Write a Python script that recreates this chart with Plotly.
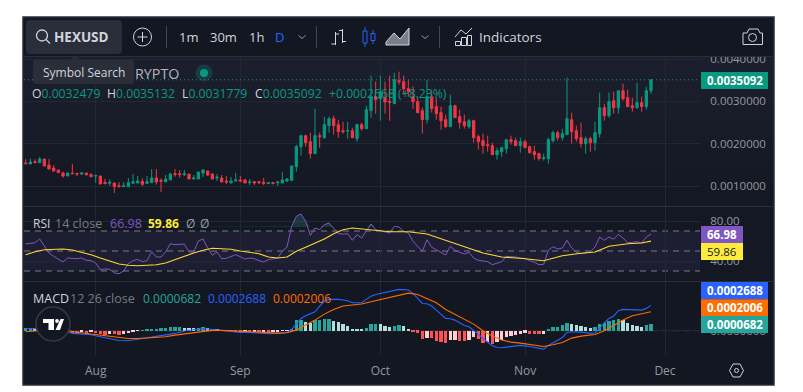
import pandas as pd
import plotly.graph_objects as go

# ---------- data (price values in units of 1e-4) ----------
start_date = "2023-07-17"
opens = [15.43,15.19,15.75,15.51,16.37,14.96,14.25,13.78,13.07,12.36,13.07,12.99,12.83,13.07,12.68,12.36,12.36,10.87,10.63,10.71,
 10.08,9.84,9.84,10.63,10.71,11.10,10.63,10.79,11.89,11.34,11.02,11.42,12.91,12.91,12.68,12.83,11.65,11.65,13.07,13.54,
 12.83,11.89,11.89,11.18,10.71,11.18,11.42,11.42,10.79,11.02,11.02,10.87,10.55,10.79,10.79,10.71,11.18,11.34,14.57,19.29,
 21.89,20.47,17.64,21.89,21.42,24.25,25.90,24.49,23.07,22.99,23.07,21.18,24.49,23.54,27.79,31.10,30.62,30.86,29.99,29.44,
 34.87,34.64,32.99,31.10,29.92,27.79,25.67,31.10,28.74,27.32,25.67,24.01,28.97,26.37,25.19,24.01,25.43,21.65,20.71,19.76,
 19.53,17.40,18.11,18.82,20.94,20.71,19.53,20.47,19.29,18.11,17.64,16.46,16.46,20.71,22.60,21.42,22.12,25.67,23.07,21.42,
 20.00,21.18,20.24,22.36,28.50,26.61,30.15,28.50,32.51,30.86,28.97,28.50,29.68,28.74,32.479]
highs = [16.30,16.53,16.30,16.85,16.37,16.37,14.96,13.78,13.38,13.07,15.19,13.07,13.31,13.07,13.07,12.68,12.36,11.65,11.57,10.79,
 10.94,10.94,11.89,12.83,12.36,11.81,12.36,14.01,14.01,11.81,12.60,13.15,14.01,13.78,13.78,12.83,12.60,13.31,14.01,13.54,
 13.07,12.83,12.60,12.36,12.12,13.07,12.36,11.65,11.65,11.18,11.18,11.89,10.94,10.94,11.18,13.31,11.89,14.88,19.76,22.12,
 22.12,22.60,28.26,22.60,26.37,26.37,26.61,25.67,25.19,25.19,23.78,24.72,24.96,28.97,36.05,34.64,36.05,34.64,36.05,36.76,
 37.00,36.05,35.11,33.54,31.10,28.50,35.11,32.75,30.86,28.74,26.85,31.57,29.21,28.03,26.85,25.90,25.67,22.12,22.36,21.89,
 20.24,19.06,19.29,20.94,21.89,21.42,21.42,20.94,19.53,19.53,17.88,17.64,21.42,23.07,23.07,23.54,35.58,27.32,24.25,24.96,
 21.65,21.65,25.19,32.04,29.44,32.04,32.28,32.51,34.17,32.75,30.86,34.40,31.10,33.46,35.132]
lows = [15.27,15.19,15.43,15.51,14.72,14.01,13.54,13.15,11.97,12.36,12.83,12.36,12.60,12.44,12.20,10.79,10.47,10.39,10.00,8.35,
 9.84,9.84,9.84,10.63,10.71,10.00,10.47,10.79,10.31,8.58,10.87,11.42,12.20,11.97,12.36,11.65,11.65,11.65,12.12,12.36,
 11.65,11.18,10.94,10.47,10.71,11.18,10.94,10.71,10.24,10.24,10.47,10.24,10.47,10.47,10.00,10.71,10.94,11.18,13.39,17.17,
 19.29,16.46,17.64,19.06,21.18,22.60,22.12,21.42,22.36,21.18,21.42,20.47,23.07,23.54,26.14,27.08,25.43,27.08,25.43,29.44,
 33.93,31.57,31.10,28.26,27.32,22.36,24.72,27.32,25.67,23.31,23.78,24.01,26.14,23.54,23.54,23.54,20.24,18.58,17.64,18.11,
 17.40,16.22,16.93,17.64,19.76,19.53,17.88,19.06,17.64,16.22,15.99,15.99,15.28,20.24,20.71,20.71,22.12,20.00,20.47,19.06,
 17.64,18.11,18.35,21.42,25.43,26.14,27.08,27.08,30.15,28.74,27.55,28.26,27.55,28.03,31.779]
closes = [15.27,15.67,15.51,16.37,14.72,14.01,13.54,13.15,12.36,13.07,12.91,12.83,13.07,12.68,12.20,12.44,10.47,10.55,10.87,9.84,
 9.84,10.08,10.79,11.02,11.18,10.39,11.02,11.89,10.94,11.10,11.65,12.83,12.68,12.68,12.91,11.65,11.89,13.31,13.78,12.60,
 11.65,12.12,10.94,10.94,11.18,11.42,11.18,10.71,10.94,10.71,10.79,10.63,10.79,10.55,10.94,11.42,11.65,14.72,19.29,21.89,
 20.24,17.64,21.89,21.65,24.49,25.90,24.25,22.83,22.83,23.07,21.42,24.49,23.54,28.03,31.10,30.39,32.28,29.84,29.76,35.11,
 34.64,32.99,32.28,29.92,27.32,25.67,31.10,28.26,27.08,25.43,24.01,28.97,26.14,24.96,24.25,25.43,21.42,20.47,19.53,19.53,
 17.40,18.35,19.06,20.94,20.47,19.53,20.47,19.06,17.88,17.40,16.46,16.69,20.94,22.60,21.42,22.36,25.90,22.83,21.18,20.00,
 21.18,20.24,22.60,28.50,26.61,29.92,28.50,32.51,30.62,28.74,28.50,29.68,28.74,32.51,35.092]

rsi = [57.0,57.7,58.3,62.0,54.7,48.0,44.7,42.0,39.0,43.0,42.3,42.3,43.0,40.7,40.3,38.0,31.3,32.0,31.7,28.0,27.3,30.0,37.3,40.3,41.7,39.3,40.3,49.3,44.0,44.0,
 49.0,57.3,56.3,56.3,57.0,49.0,49.0,60.0,62.0,53.0,45.7,49.0,42.3,42.7,44.7,46.3,44.3,42.0,43.0,42.3,40.3,39.0,41.3,42.3,43.0,49.7,54.0,74.7,84.7,87.0,
 79.7,65.7,73.0,71.3,76.3,78.0,73.0,67.3,67.0,67.3,60.7,66.3,63.0,70.7,77.0,71.3,70.3,69.0,68.0,74.7,74.0,
 69.7,68.0,59.7,54.7,49.7,61.3,53.7,51.3,48.7,46.0,54.7,50.7,48.7,47.0,48.7,43.0,40.7,40.0,39.3,36.3,38.0,39.3,44.7,44.7,44.0,42.7,42.7,40.3,38.7,36.3,36.7,
 50.7,54.3,52.0,53.0,60.7,53.0,48.7,47.3,48.0,49.0,54.0,64.0,60.7,64.0,61.7,66.7,63.0,58.3,58.7,59.3,58.0,64.0,66.98]
rsi_ma_bars = list(range(0, 81, 2)) + [82,86,90,94,98,102,106,111,115,119,122,125,129,132,134]
rsi_ma = [46.3,49.3,51.3,52.0,52.0,51.0,49.0,46.3,43.0,39.7,37.0,35.7,35.3,35.7,36.3,38.0,41.3,45.3,48.0,50.7,52.7,52.3,51.7,50.0,48.7,47.3,44.0,43.0,44.0,49.7,53.7,57.7,62.0,67.3,71.3,73.0,72.0,70.7,70.3,69.3,69.3,
 69.3,67.0,60.7,53.7,48.0,44.0,42.7,40.3,45.3,47.7,49.0,54.7,57.3,58.0,59.86]

macd_bars = list(range(0, 57, 2)) + list(range(57, 81)) + list(range(82, 105)) + [106,108,110,111,112,113,114,115,116,117,119,121,122,123,124,125,126,127,128,130,132,133,134]
macd = [0.20,0.23,0.23,0.16,-0.02,-0.30,-0.37,-0.45,-0.66,-0.87,-1.05,-1.09,-0.94,-0.80,-0.66,-0.52,-0.30,-0.05,0.05,0.23,0.12,0.02,-0.09,-0.20,-0.20,-0.27,-0.34,-0.30,-0.20,
 0.12,0.77,1.30,1.58,1.76,2.01,2.62,3.15,3.33,3.36,3.33,3.26,3.19,2.97,2.94,2.97,3.33,3.68,3.86,3.97,4.04,4.18,4.33,4.40,
 4.33,3.97,3.44,2.90,2.87,2.62,2.19,1.76,1.30,1.26,1.12,0.84,0.55,0.41,-0.05,-0.41,-0.84,-1.19,-1.62,-1.80,-1.83,-1.76,-1.69,
 -1.58,-1.69,-1.90,-1.98,-1.58,-1.30,-1.09,-0.73,-0.20,-0.12,-0.16,-0.30,-0.23,0.23,0.84,1.30,1.55,2.12,2.26,2.26,2.19,2.37,2.688]
signal_bars = list(range(0, 81, 2)) + [82,84,86,88,90,92,94,96,98,100,102,104,106,108,111,113,115,117,119,122,124,126,128,130,132,134]
signal = [-0.12,-0.02,0.09,0.12,0.05,-0.12,-0.23,-0.37,-0.48,-0.66,-0.77,-0.84,-0.84,-0.80,-0.73,-0.66,-0.48,-0.34,-0.23,-0.09,0.02,0.02,-0.05,-0.09,-0.12,-0.16,-0.23,-0.27,-0.23,0.05,0.59,1.12,1.76,2.26,2.62,2.76,2.83,3.08,3.33,3.54,3.79,
 4.00,3.86,3.44,2.97,2.26,1.73,1.19,0.69,-0.02,-0.59,-1.01,-1.23,-1.34,-1.48,-1.69,-1.51,-1.26,-0.80,-0.59,-0.41,-0.02,0.55,1.12,1.58,1.76,2.006]
hist = [0.28,0.28,0.25,0.20,0.12,0.06,0.02,0.0,-0.05,-0.10,-0.28,-0.32,-0.18,-0.25,-0.18,-0.25,-0.36,-0.43,-0.36,-0.39,-0.43,-0.32,-0.25,-0.14,-0.03,0.03,0.07,0.14,0.18,0.25,
 0.28,0.36,0.365,0.39,0.32,0.28,0.25,0.28,0.36,0.25,0.14,0.07,0.03,0.0,-0.03,-0.05,-0.07,-0.05,-0.07,-0.05,-0.10,-0.05,-0.14,-0.07,-0.05,-0.03,-0.02,0.07,1.10,1.17,
 0.93,0.85,1.10,1.17,1.21,1.25,1.03,0.89,0.68,0.46,0.21,0.14,0.11,0.28,0.68,0.71,0.68,0.53,0.36,0.53,0.57,
 0.46,0.21,-0.14,-0.21,-0.89,-0.78,-0.80,-1.14,-1.18,-1.35,-1.0,-0.98,-1.07,-1.14,-1.0,-0.64,-0.93,-1.28,-1.25,-1.42,-1.18,-0.96,-0.71,-0.53,-0.43,-0.36,-0.21,-0.32,-0.34,-0.36,-0.32,
 0.07,0.36,0.43,0.57,0.78,0.71,0.57,0.46,0.36,0.28,0.36,0.71,0.85,1.07,1.14,1.21,1.14,0.85,0.64,0.50,0.43,0.57,0.682]

assert len(opens)==len(highs)==len(lows)==len(closes)==len(rsi)==len(hist)==135, (len(opens),len(highs),len(lows),len(closes),len(rsi),len(hist))
assert len(rsi_ma_bars)==len(rsi_ma), (len(rsi_ma_bars),len(rsi_ma))
assert len(macd_bars)==len(macd), (len(macd_bars),len(macd))
assert len(signal_bars)==len(signal), (len(signal_bars),len(signal))

last_close_label = "0.0035092"
month_ticks = ["2023-08-01","2023-09-01","2023-10-01","2023-11-01","2023-12-01"]

# ---------- layout helpers ----------
W, H = 803, 392
def px(x): return x / W
def py(y): return 1 - y / H

BG = "#131722"; GRID = "#232733"; SEP = "#2a2e39"; TXT = "#d1d4dc"; MUTED = "#9598a1"
GREEN = "#089981"; RED = "#f23645"; FONT = "Open Sans"

dates = pd.date_range(start_date, periods=len(opens))
E4 = 1e-4
o = [v*E4 for v in opens]; h_ = [v*E4 for v in highs]; l_ = [v*E4 for v in lows]; c = [v*E4 for v in closes]

hist_colors = []
for i, v in enumerate(hist):
    prev = hist[i-1] if i else 0
    if v >= 0:
        hist_colors.append("#26a69a" if v >= prev else "#b2dfdb")
    else:
        hist_colors.append("#ffcdd2" if v >= prev else "#ff5252")

fig = go.Figure()
fig.add_trace(go.Candlestick(x=dates, open=o, high=h_, low=l_, close=c, xaxis="x", yaxis="y",
    increasing=dict(line=dict(color=GREEN, width=1), fillcolor=GREEN),
    decreasing=dict(line=dict(color=RED, width=1), fillcolor=RED),
    whiskerwidth=0, hoverinfo="skip", showlegend=False))

rsi_above = [max(v, 74) for v in rsi]
fig.add_trace(go.Scatter(x=dates, y=[74]*len(rsi), xaxis="x2", yaxis="y2", mode="lines", line=dict(width=0), showlegend=False, hoverinfo="skip"))
fig.add_trace(go.Scatter(x=dates, y=rsi_above, xaxis="x2", yaxis="y2", mode="lines", line=dict(width=0), fill="tonexty",
                         fillcolor="rgba(38,166,154,0.22)", showlegend=False, hoverinfo="skip"))
fig.add_trace(go.Scatter(x=dates, y=rsi, xaxis="x2", yaxis="y2", mode="lines", line=dict(color="#7e57c2", width=1), showlegend=False, hoverinfo="skip"))
fig.add_trace(go.Scatter(x=[dates[i] for i in rsi_ma_bars], y=rsi_ma, xaxis="x2", yaxis="y2", mode="lines",
                         line=dict(color="#fdd835", width=1.1), showlegend=False, hoverinfo="skip"))

fig.add_trace(go.Bar(x=dates, y=[v*E4 for v in hist], xaxis="x3", yaxis="y3", marker=dict(color=hist_colors, line=dict(width=0)),
                     width=0.66*86400000, showlegend=False, hoverinfo="skip"))
fig.add_trace(go.Scatter(x=[dates[i] for i in macd_bars], y=[v*E4 for v in macd], xaxis="x3", yaxis="y3", mode="lines",
                         line=dict(color="#2962ff", width=1.1), showlegend=False, hoverinfo="skip"))
fig.add_trace(go.Scatter(x=[dates[i] for i in signal_bars], y=[v*E4 for v in signal], xaxis="x3", yaxis="y3", mode="lines",
                         line=dict(color="#ff6d00", width=1.1), showlegend=False, hoverinfo="skip"))

# x scale: one bar = 4.666 px, first bar at pixel 25.7, plot spans pixels 24..700
xr = [dates[0] - pd.Timedelta(days=0.36), dates[0] + pd.Timedelta(days=144.5)]
xdom = [px(24), px(700)]
xcommon = dict(type="date", range=xr, domain=xdom, tickvals=month_ticks, showgrid=True, gridcolor=GRID, gridwidth=1,
               zeroline=False, showline=False, fixedrange=True)

def line(x0, y0, x1, y1, color=TXT, width=1, layer="above", dash=None):
    return dict(type="line", xref="paper", yref="paper", x0=px(x0), y0=py(y0), x1=px(x1), y1=py(y1),
                line=dict(color=color, width=width, dash=dash) if dash else dict(color=color, width=width), layer=layer)
def rect(x0, y0, x1, y1, fill, color=None, width=0, layer="above"):
    return dict(type="rect", xref="paper", yref="paper", x0=px(x0), y0=py(y0), x1=px(x1), y1=py(y1), fillcolor=fill,
                line=dict(color=color or fill, width=width), layer=layer)
def circle(cx, cy, r, fill="rgba(0,0,0,0)", color=TXT, width=1, layer="above"):
    return dict(type="circle", xref="paper", yref="paper", x0=px(cx-r), y0=py(cy-r), x1=px(cx+r), y1=py(cy+r), fillcolor=fill,
                line=dict(color=color, width=width), layer=layer)
def path(points, fill=None, color=TXT, width=1, closed=False, layer="above"):
    d = "M " + " L ".join(f"{px(x):.5f},{py(y):.5f}" for x, y in points) + (" Z" if closed else "")
    s = dict(type="path", xref="paper", yref="paper", path=d, line=dict(color=color, width=width), layer=layer)
    if fill: s["fillcolor"] = fill
    return s
def rrect(x0, y0, x1, y1, r, fill):
    d = (f"M {px(x0+r):.5f},{py(y0):.5f} L {px(x1-r):.5f},{py(y0):.5f} Q {px(x1):.5f},{py(y0):.5f} {px(x1):.5f},{py(y0+r):.5f} "
         f"L {px(x1):.5f},{py(y1-r):.5f} Q {px(x1):.5f},{py(y1):.5f} {px(x1-r):.5f},{py(y1):.5f} "
         f"L {px(x0+r):.5f},{py(y1):.5f} Q {px(x0):.5f},{py(y1):.5f} {px(x0):.5f},{py(y1-r):.5f} "
         f"L {px(x0):.5f},{py(y0+r):.5f} Q {px(x0):.5f},{py(y0):.5f} {px(x0+r):.5f},{py(y0):.5f} Z")
    return dict(type="path", xref="paper", yref="paper", path=d, fillcolor=fill, line=dict(width=0), layer="above")

shapes = []
# frame and background
shapes.append(rect(23, 17, 774, 385, BG, "#2a2e39", 1.5, "below"))
band_colors = ["#1b1f2d","#1a1e2b","#191c29","#171b27","#161a25","#151924","#141823"]
for k, col in enumerate(band_colors):
    y0 = 57 + k*(149/len(band_colors))
    shapes.append(rect(24, y0, 773, y0 + 149/len(band_colors) + 0.5, col, None, 0, "below"))
shapes.append(rect(24, 207, 773, 281, "#141823", None, 0, "below"))
# RSI band and levels
shapes.append(dict(type="rect", xref="paper", yref="y2", x0=px(24), x1=px(700), y0=30, y1=70,
                   fillcolor="rgba(126,87,194,0.10)", line=dict(width=0), layer="below"))
for lv in (70, 50, 30):
    shapes.append(dict(type="line", xref="paper", yref="y2", x0=px(24), x1=px(700), y0=lv, y1=lv,
                       line=dict(color="#787b86", width=1, dash="6px,5px"), layer="below"))
shapes.append(dict(type="line", xref="paper", yref="y3", x0=px(24), x1=px(700), y0=0, y1=0,
                   line=dict(color="#787b86", width=1, dash="6px,5px"), layer="below"))
# last price dotted line
shapes.append(dict(type="line", xref="paper", yref="y", x0=px(24), x1=px(700), y0=c[-1], y1=c[-1],
                   line=dict(color=GREEN, width=1, dash="1px,3px"), layer="above"))
# toolbar
shapes.append(rect(24, 18, 773, 56, BG))
shapes.append(line(24, 56.5, 773, 56.5, SEP))
shapes.append(line(24, 206.5, 773, 206.5, SEP))
shapes.append(line(24, 281.5, 773, 281.5, SEP))
shapes.append(rrect(26, 20, 122, 54, 4, "#2a2e39"))
shapes.append(circle(42, 35.5, 5.5, color=TXT, width=1.3))
shapes.append(line(46, 39.5, 50, 43.5, TXT, 1.3))
shapes.append(circle(142.5, 37, 9, color=TXT, width=1))
shapes.append(line(137.5, 37, 147.5, 37, TXT))
shapes.append(line(142.5, 32, 142.5, 42, TXT))
for sx in (166.5, 316.5, 439.5):
    shapes.append(line(sx, 26, sx, 48, "#434651"))
for cx in (302, 425):
    shapes.append(path([(cx-3.5, 35.5), (cx, 38.5), (cx+3.5, 35.5)], color=MUTED))
# bars icon
shapes += [line(335.5, 32, 335.5, 45, TXT), line(331.5, 44, 335.5, 44, TXT), line(335.5, 34, 339, 34, TXT),
           line(342.5, 29, 342.5, 43, TXT), line(339, 30.5, 342.5, 30.5, TXT), line(342.5, 41.5, 346, 41.5, TXT)]
# candle icon
BLUE = "#2962ff"
shapes += [line(365, 27, 365, 47, BLUE), rect(363, 31, 367, 43, BG, BLUE, 1),
           line(373, 30, 373, 44, BLUE), rect(371, 33.5, 375, 40.5, BG, BLUE, 1)]
# area icon
shapes.append(path([(386,45),(386,42),(394,33),(400,39),(409,28),(409,45)], fill="rgba(209,212,220,0.55)", color=TXT, closed=True))
# indicators icon
shapes.append(path([(455,37),(461,30),(466,34),(472,28)], color=TXT))
shapes += [rect(455.5,41.5,460.5,45.5,BG,TXT,1), rect(461.5,37.5,466.5,45.5,BG,TXT,1), rect(467.5,35.5,471.5,45.5,BG,TXT,1)]
# camera icon
shapes.append(path([(743,33),(747,33),(749,29),(758,29),(760,33),(762.5,33),(762.5,44.5),(743,44.5)], color=TXT, closed=True))
shapes.append(circle(752.5, 37.5, 4, color=TXT))
# tooltip
shapes.append(rrect(33, 60, 134, 84, 2, "#2a2e39"))
shapes.append(path([(70,60),(75,56),(80,60)], fill="#2a2e39", color="#2a2e39", closed=True))
# status dot
shapes.append(circle(204, 73, 8.5, fill="rgba(8,153,129,0.25)", color="rgba(0,0,0,0)", width=0))
shapes.append(circle(204, 73, 4, fill=GREEN, color=GREEN, width=0))
# logo
shapes.append(circle(53, 324, 17, fill=BG, color="#363a45", width=1.5))
shapes.append(path([(43,319),(54,319),(54,330),(48.5,330),(48.5,323),(43,323)], fill="#ffffff", color="#ffffff", width=0, closed=True))
shapes.append(circle(57, 321, 1.9, fill="#ffffff", color="#ffffff", width=0))
shapes.append(path([(60.5,319),(64,319),(60,330),(55.5,330)], fill="#ffffff", color="#ffffff", width=0, closed=True))
# settings icon
shapes.append(path([(729.5,370.5),(733,364),(740,364),(743.5,370.5),(740,377),(733,377)], color=TXT, closed=True))
shapes.append(circle(736.5, 370.5, 2, color=TXT))
# price tags
shapes.append(rect(701, 72, 768, 89, GREEN))
shapes.append(rect(701, 226, 743, 243, "#7e57c2"))
shapes.append(rect(701, 243, 743, 260, "#ffeb3b"))
shapes.append(rect(701, 282, 768, 299.3, "#2962ff"))
shapes.append(rect(701, 299.3, 768, 316, "#ff6d00"))
shapes.append(rect(701, 316, 768, 333, "#26a69a"))

anns = []
def text(x, y, s, color=TXT, size=12, bold=False, anchor="left"):
    anns.append(dict(xref="paper", yref="paper", x=px(x), y=py(y), text=f"<b>{s}</b>" if bold else s, showarrow=False,
                     xanchor=anchor, yanchor="middle", font=dict(family=FONT, size=size, color=color), borderpad=0, borderwidth=0))
text(54, 36.5, "HEXUSD", TXT, 13.5, True)
text(188.5, 37, "1m", TXT, 13, anchor="center")
text(223, 37, "30m", TXT, 13, anchor="center")
text(256.5, 37, "1h", TXT, 13, anchor="center")
text(279.5, 37, "D", BLUE, 13, anchor="center")
text(479, 37, "Indicators", TXT, 13.5)
text(83.5, 72, "Symbol Search", TXT, 12, anchor="center")
text(135, 74, "RYPTO", "#b2b5be", 14.3)
for lab, val, x0 in (("O","0.0032479",32),("H","0.0035132",107),("L","0.0031779",182),("C","0.0035092",255)):
    text(x0, 93.5, f'<span style="color:#d1d4dc">{lab}</span>{val}', GREEN, 12.2)
text(329, 93.5, "+0.0002668 (+8.23%)", GREEN, 12.2)
# RSI legend
text(33, 223, "RSI", TXT, 12)
text(55, 223, "14 close", "#787b86", 12.5)
text(110, 223, "66.98", "#7e57c2", 12.5)
text(148, 223, "59.86", "#ffeb3b", 12, True)
text(186, 223, "Ø", "#9598a1", 12)
text(200, 223, "Ø", "#9598a1", 12)
# MACD legend
text(33, 298, "MACD", TXT, 12.5)
text(70, 298, "12 26 close", "#787b86", 12.5)
text(143, 298, "0.0000682", "#26a69a", 12)
text(208, 298, "0.0002688", "#2962ff", 12)
text(273, 298, "0.0002006", "#ff6d00", 12)
# tags
text(734.5, 80.5, last_close_label, "#ffffff", 11.5, True, "center")
text(722, 234.5, "66.98", "#ffffff", 11.5, True, "center")
text(722, 251.5, "59.86", "#131722", 11.5, False, "center")
text(734.5, 290.5, "0.0002688", "#ffffff", 11.5, True, "center")
text(734.5, 307.5, "0.0002006", "#ffffff", 11.5, True, "center")
text(734.5, 324.5, "0.0000682", "#ffffff", 11.5, True, "center")

tickfont = dict(family=FONT, size=11.5, color=MUTED)
ycommon = dict(side="right", showgrid=True, gridcolor=GRID, gridwidth=1, zeroline=False, showline=False, ticks="outside", ticklen=7,
               tickcolor="rgba(0,0,0,0)", tickfont=tickfont, fixedrange=True, automargin=False)

fig.update_layout(
    width=W, height=H, margin=dict(l=0, r=0, t=0, b=0), paper_bgcolor="#ffffff", plot_bgcolor="rgba(0,0,0,0)",
    showlegend=False, bargap=0, font=dict(family=FONT), hovermode=False,
    xaxis=dict(**xcommon, anchor="y", showticklabels=False, ticks="", rangeslider=dict(visible=False)),
    xaxis2=dict(**xcommon, anchor="y2", showticklabels=False, ticks="", matches="x"),
    xaxis3=dict(**xcommon, anchor="y3", tickformat="%b", ticks="outside", ticklen=5, tickcolor="rgba(0,0,0,0)",
                tickfont=dict(family=FONT, size=12, color=MUTED), matches="x"),
    yaxis=dict(**ycommon, anchor="x", domain=[py(206), py(57)], range=[0.001-20/42.33*1e-3, 0.001+129/42.33*1e-3],
               tickvals=[0.001,0.002,0.003,0.004], tickformat=".7f"),
    yaxis2=dict(**ycommon, anchor="x2", domain=[py(281), py(207)], range=[20, 94], tickvals=[40,80], tickformat=".2f"),
    yaxis3=dict(**ycommon, anchor="x3", domain=[py(355), py(282)], range=[-(355-330.6)/93.7e0*1e-3, (330.6-282)/93.7*1e-3],
                tickvals=[0], ticktext=["0.0000000"]),
    shapes=shapes, annotations=anns,
)
fig.write_html("out.html", config=dict(displayModeBar=False, responsive=False),
               post_script="document.body.style.margin='0';document.body.style.overflow='hidden';")
